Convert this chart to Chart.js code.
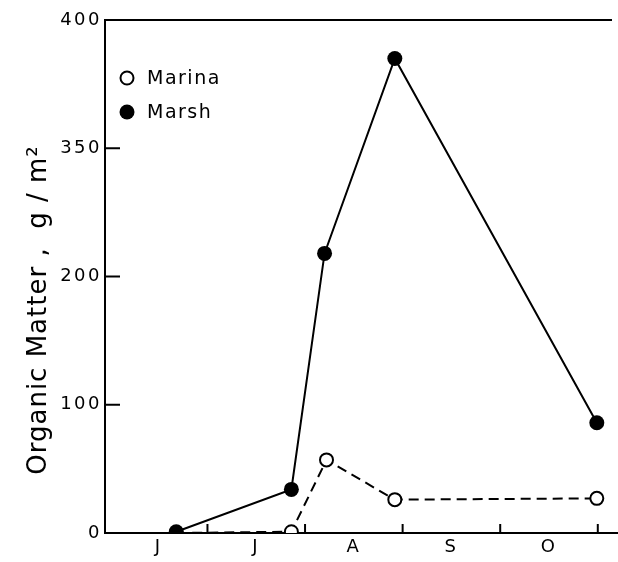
<!DOCTYPE html>
<html>
<head>
<meta charset="utf-8">
<script src="https://cdn.jsdelivr.net/npm/chart.js@4/dist/chart.umd.min.js"></script>
<style>
  html, body { margin: 0; padding: 0; background: #fff; }
  #wrap { width: 618px; height: 562px; }
</style>
</head>
<body>
<div id="wrap"><canvas id="chart"></canvas></div>
<script>
// months run June..October, x in month units (0 = start of June)
const monthLabels = ["J", "J", "A", "S", "O"];
const monthCenters = [0.5, 1.5, 2.5, 3.5, 4.5];
const monthBounds = [1, 2, 3, 4, 5];

const yTickValues = [0, 100, 200, 300, 400];
const yTickLabels = ["0", "100", "200", "350", "400"];

const marinaX = [0.68, 1.86, 2.22, 2.92, 4.99];
const marinaY = [0, 1, 57, 26, 27];

const marshX = [0.68, 1.86, 2.20, 2.92, 4.99];
const marshY = [1, 34, 218, 370, 86];

const FONT = "'DejaVu Sans', sans-serif";

function toPoints(xs, ys) {
  return xs.map((x, i) => ({ x: x, y: ys[i] }));
}

const decorPlugin = {
  id: "decor",
  beforeDraw(chart) {
    // the lettering in the original is wide, spread it a little
    chart.ctx.letterSpacing = "2.5px";
  },
  afterDraw(chart) {
    const ctx = chart.ctx;
    const area = chart.chartArea;
    const xScale = chart.scales.x;
    const yScale = chart.scales.y;

    ctx.save();
    ctx.strokeStyle = "#000";
    ctx.lineWidth = 2;

    // top frame line, and the bottom axis running on to the edge
    ctx.beginPath();
    ctx.moveTo(area.left, area.top);
    ctx.lineTo(612, area.top);
    ctx.moveTo(area.right - 1, area.bottom);
    ctx.lineTo(chart.width, area.bottom);
    ctx.stroke();

    // inward y ticks
    [100, 200, 300].forEach((v) => {
      const y = yScale.getPixelForValue(v);
      ctx.beginPath();
      ctx.moveTo(area.left, y);
      ctx.lineTo(area.left + 15, y);
      ctx.stroke();
    });

    // inward x ticks at month boundaries
    monthBounds.forEach((b) => {
      const x = xScale.getPixelForValue(b);
      ctx.beginPath();
      ctx.moveTo(x, area.bottom);
      ctx.lineTo(x, area.bottom - 9);
      ctx.stroke();
    });

    // legend
    ctx.letterSpacing = "1.5px";
    ctx.font = "19px " + FONT;
    ctx.textBaseline = "middle";
    ctx.textAlign = "left";

    ctx.beginPath();
    ctx.arc(127, 78, 6.5, 0, Math.PI * 2);
    ctx.fillStyle = "#fff";
    ctx.fill();
    ctx.lineWidth = 2;
    ctx.stroke();
    ctx.fillStyle = "#000";
    ctx.fillText("Marina", 147, 79);

    ctx.beginPath();
    ctx.arc(127, 112, 7.5, 0, Math.PI * 2);
    ctx.fill();
    ctx.fillText("Marsh", 147, 113);

    // y axis title
    ctx.translate(46, 310);
    ctx.rotate(-Math.PI / 2);
    ctx.textAlign = "center";
    ctx.textBaseline = "alphabetic";
    ctx.letterSpacing = "1px";
    ctx.font = "26px " + FONT;
    ctx.fillText("Organic Matter ,  g / m\u00B2", 0, 0);
    ctx.restore();
  },
};

new Chart(document.getElementById("chart"), {
  type: "line",
  data: {
    datasets: [
      {
        label: "Marsh",
        data: toPoints(marshX, marshY),
        borderColor: "#000",
        borderWidth: 2,
        backgroundColor: "#000",
        pointRadius: 7.5,
        pointBorderWidth: 0,
        pointBackgroundColor: "#000",
        tension: 0,
        order: 0,
      },
      {
        label: "Marina",
        data: toPoints(marinaX, marinaY),
        borderColor: "#000",
        borderWidth: 2,
        borderDash: [10, 6],
        pointRadius: 6.5,
        pointBorderWidth: 2,
        pointBorderColor: "#000",
        pointBackgroundColor: "#fff",
        tension: 0,
        order: 1,
      },
    ],
  },
  options: {
    responsive: true,
    maintainAspectRatio: false,
    animation: false,
    layout: { padding: { top: 20, right: 0, left: 0, bottom: 0 } },
    plugins: {
      legend: { display: false },
      tooltip: { enabled: false },
    },
    scales: {
      x: {
        type: "linear",
        min: -0.05,
        max: 5.12,
        grid: { display: false, drawTicks: false },
        border: { display: true, color: "#000", width: 2 },
        afterBuildTicks: (scale) => {
          scale.ticks = monthCenters.map((v) => ({ value: v }));
        },
        afterFit: (scale) => {
          scale.height = 29;
        },
        ticks: {
          autoSkip: false,
          maxRotation: 0,
          padding: 4,
          color: "#000",
          font: { family: FONT, size: 18 },
          callback: (value, index) => monthLabels[index],
        },
      },
      y: {
        type: "linear",
        min: 0,
        max: 400,
        grid: { display: false, drawTicks: false },
        border: { display: true, color: "#000", width: 2 },
        afterBuildTicks: (scale) => {
          scale.ticks = yTickValues.map((v) => ({ value: v }));
        },
        afterFit: (scale) => {
          scale.width = 105;
        },
        ticks: {
          padding: 3,
          color: "#000",
          font: { family: FONT, size: 18 },
          callback: (value, index) => yTickLabels[index],
        },
      },
    },
  },
  plugins: [decorPlugin],
});
</script>
</body>
</html>
